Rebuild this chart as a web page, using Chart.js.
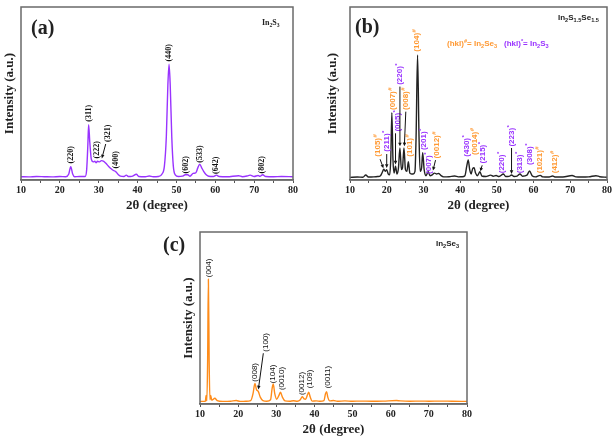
<!DOCTYPE html>
<html><head><meta charset="utf-8">
<script src="https://cdn.jsdelivr.net/npm/chart.js@4"></script>
<style>
body{margin:0;width:615px;height:440px;background:#fff;position:relative;overflow:hidden;}
canvas{position:absolute}
.t{position:absolute;white-space:nowrap;line-height:1;color:#222}
.pl{font:bold 20px "Liberation Serif"}
.sn{font:bold 8px "Liberation Sans"}
.sns{font:bold 8px "Liberation Serif"}
sub{font-size:70%;vertical-align:-2px;line-height:0}
sup{font-size:70%;vertical-align:3px;line-height:0}
</style></head><body>
<canvas id="ca" width="300" height="220" style="left:0;top:0"></canvas>
<canvas id="cb" width="297" height="220" style="left:318px;top:0"></canvas>
<canvas id="cc" width="310" height="240" style="left:170px;top:200px"></canvas>
<div class="t pl" style="left:31px;top:16px">(a)</div>
<div class="t pl" style="left:355px;top:15px">(b)</div>
<div class="t pl" style="left:163px;top:233px">(c)</div>
<div class="t sns" style="left:262px;top:18px">In<sub>2</sub>S<sub>3</sub></div>
<div class="t sn" style="left:558px;top:13px">In<sub>2</sub>S<sub>1.5</sub>Se<sub>1.5</sub></div>
<div class="t sn" style="left:447px;top:39px;color:#FF9933">(hkl)<sup>#</sup>= In<sub>2</sub>Se<sub>3</sub></div>
<div class="t sn" style="left:504px;top:39px;color:#9933FF">(hkl)<sup>*</sup>= In<sub>2</sub>S<sub>3</sub></div>
<div class="t sn" style="left:436px;top:239px">In<sub>2</sub>Se<sub>3</sub></div>
<script>
// ---------- data (2θ in degree, intensity in a.u.) ----------
const aTheta = [10,12,14,16,18,20,21.5,22.3,22.8,23.3,23.8,25,26.5,26.9,27.2,27.4,27.7,28.1,28.6,29.0,29.3,29.7,30.2,30.7,31.3,31.9,32.5,33.2,33.8,34.4,35.0,35.6,36.5,37.1,37.6,38.5,39.7,40.3,42,43,44,45.3,46.3,46.9,47.4,47.8,48.1,48.4,48.8,49.2,49.7,50.5,51.5,52.3,52.9,53.5,54.3,55.0,55.5,56.0,56.5,57.0,57.6,58.3,59.5,60.3,61,63,66,67,68.5,69,70,71,71.5,72.2,73,75,77,80];
const aInt   = [1.9,1.8,2.0,1.9,1.8,2.0,1.9,3.5,7.7,3.5,1.9,2.0,2.0,6,20,32,22,12,10.5,10.8,10,10.8,10.5,11.2,10.8,9.5,8,6.5,5.5,4.8,3.2,2.2,2.0,2.8,2.0,2.1,3.3,2.0,1.9,2.3,1.9,2.0,3.5,8,25,55,67,55,25,8,3,2.0,2.2,3.0,3.0,2.2,3.8,4.2,7,9.2,7,5,3.2,2.2,2.0,2.8,2.0,1.9,2.5,1.9,2.5,2.8,2.0,2.6,2.1,3.0,2.0,1.9,2.0,1.9];

const bTheta = [10,12,13.5,14.3,15,16.5,17.5,18.3,18.8,19.2,19.6,20.0,20.4,20.8,21.1,21.4,21.7,22.0,22.4,22.8,23.2,23.6,24.0,24.3,24.7,25.1,25.5,25.9,26.3,26.8,27.2,27.7,28.0,28.4,28.8,29.1,29.5,29.8,30.2,30.7,31.3,31.8,32.4,33.0,33.6,34.2,34.8,35.5,37,38.5,39.5,40.5,41.3,41.8,42.2,42.6,43.0,43.4,43.8,44.2,44.7,45.4,45.9,47,48.3,49.0,49.8,50.6,51.8,52.4,53.3,54.0,54.7,55.5,56.3,57.0,58.2,58.9,59.6,60.5,61.8,62.5,64,65.2,66,68,70.5,71.5,73,75,77,78,80];
const bInt   = [1.5,1.7,1.6,2.9,1.7,1.8,2.0,2.5,4.5,6.2,5.0,6.0,3.5,3.0,12,38.9,12,4,8,3.5,7,18.5,6,7,18.5,6,5,10.6,4,3.5,3.5,5,25,72.3,25,5,7,15.8,6,2.5,4.8,2.5,3,4,3.5,3.8,2.5,1.8,1.9,2.3,1.8,1.9,2.5,8,11.6,6,3.5,6.5,7.1,4,2.5,4.8,2.3,2.0,2.8,2.2,2.6,2.0,3.5,2.0,2.1,2.9,2.0,2.2,3.5,2.2,2.8,5.2,2.5,1.8,2.7,1.8,1.7,2.3,1.7,1.7,2.6,1.8,1.7,1.8,2.5,1.9,1.6];

const cTheta = [10,11,11.4,11.6,11.8,12.0,12.2,12.4,12.6,12.8,13.1,13.9,14.5,16,18,19.5,20.5,22,23.3,23.9,24.4,24.8,25.3,25.8,26.5,27.5,28.5,28.9,29.2,29.6,30.1,30.7,31.1,31.6,32.3,33.5,34.5,35.5,36.3,36.8,37.3,37.7,38.2,38.5,38.9,39.4,40.5,41.5,42.5,42.9,43.2,43.5,44,45,46,48,50,52,55,58,61.5,62.5,65,68,70,73,76,80];
const cInt   = [1.5,1.5,1.6,5,1.8,25,72.5,25,2.5,5,2.2,3.3,2.0,1.5,1.6,2.0,1.5,1.6,2.0,6,12,8.5,7.2,4,2.0,1.6,2.5,9,11.6,6,2.8,5,6.8,4,1.8,1.6,1.9,1.6,2.5,4.3,3.0,2.8,5.5,6.8,4,1.7,1.8,1.6,2.0,6,7.2,4,1.8,2.0,1.6,1.8,1.6,1.7,1.6,1.7,2.0,1.8,1.6,1.7,1.6,1.7,1.6,1.5];

// peak labels: [2θ, intensity at label foot, text, superscript, phase]
const aPeaks = [[22.8,9.6,'(220)'],[27.4,33.7,'(311)'],[29.6,12.5,'(222)'],[32.4,22,'(321)'],[34.5,6.7,'(400)'],[48.1,68.5,'(440)'],[52.5,3.8,'(602)'],[56.0,10,'(533)'],[60.1,3.5,'(642)'],[72.1,3.8,'(802)']];
const aArrows = [[31.8,20.8,30.8,12.5]];

const bPeaks = [[17.7,13.5,'(105)','#','Se'],[20.0,16.4,'(211)','*','S'],[21.6,40.5,'(007)','#','Se'],[23.1,28,'(005)','*','S'],[23.6,55,'(220)','*','S'],[25.3,40.5,'(008)','#','Se'],[26.3,13.5,'(101)','#','Se'],[28.3,74.2,'(104)','#','Se'],[30.2,17.3,'(201)','*','S'],[31.4,3.5,'(007)','*','S'],[33.6,12.5,'(0012)','#','Se'],[41.8,13.5,'(430)','*','S'],[44.0,14.5,'(0014)','#','Se'],[46.3,9.6,'(215)','*','S'],[51.3,3.9,'(220)','*','S'],[54.0,19.3,'(223)','*','S'],[56.3,3.9,'(313)','*','S'],[58.9,8.7,'(308)','*','S'],[61.6,3.9,'(1021)','#','Se'],[65.8,3.9,'(412)','#','Se']];
const bArrows = [[18.2,12,19.1,6.8],[20.0,15,20.0,7],[22.4,27,22.4,9],[23.6,54,23.6,19.5],[25.2,39.5,24.8,19.5],[33.3,11.5,32.6,5.5],[46.0,8.5,45.5,5],[54.0,18.5,54.0,3.5]];

const cPeaks = [[12.4,73.7,'(004)'],[24.4,13,'(008)'],[27.2,30.4,'(100)'],[29.1,12,'(104)'],[31.4,8.1,'(0010)'],[36.7,5.2,'(0012)'],[38.8,9.1,'(109)'],[43.6,9.1,'(0011)']];
const cArrows = [[26.6,29.5,25.3,8.5]];

const xMin = 10, xMax = 80, xStep = 5;
const phaseColor = {Se:'#FF9933', S:'#9933FF'};

// ---------- plugin drawing frame, peak labels and arrows ----------
const annot = {
  id:'annot',
  afterDatasetsDraw(chart, args, o){
    const ctx = chart.ctx, xs = chart.scales.x, ys = chart.scales.y, a = chart.chartArea;
    ctx.save();
    ctx.strokeStyle = '#6a6a6a'; ctx.lineWidth = 1.5;
    ctx.strokeRect(a.left, a.top, a.right - a.left, a.bottom - a.top);
    for (const p of o.peaks){
      const px = xs.getPixelForValue(p[0]), py = ys.getPixelForValue(p[1]);
      ctx.save(); ctx.translate(px, py); ctx.rotate(-Math.PI/2);
      ctx.font = o.font; ctx.fillStyle = p[4] ? phaseColor[p[4]] : '#111';
      ctx.textAlign = 'left'; ctx.textBaseline = 'middle';
      ctx.fillText(p[2], 0, 0);
      if (p[3]){ const w = ctx.measureText(p[2]).width; ctx.font = o.supFont; ctx.fillText(p[3], w + 0.5, -2.5); }
      ctx.restore();
    }
    ctx.strokeStyle = '#111'; ctx.fillStyle = '#111'; ctx.lineWidth = 1;
    for (const r of o.arrows){
      const x1 = xs.getPixelForValue(r[0]), y1 = ys.getPixelForValue(r[1]);
      const x2 = xs.getPixelForValue(r[2]), y2 = ys.getPixelForValue(r[3]);
      const ang = Math.atan2(y2 - y1, x2 - x1), h = 4;
      ctx.beginPath(); ctx.moveTo(x1, y1); ctx.lineTo(x2 - Math.cos(ang)*h*0.8, y2 - Math.sin(ang)*h*0.8); ctx.stroke();
      ctx.beginPath(); ctx.moveTo(x2, y2);
      ctx.lineTo(x2 - h*Math.cos(ang - 0.45), y2 - h*Math.sin(ang - 0.45));
      ctx.lineTo(x2 - h*Math.cos(ang + 0.45), y2 - h*Math.sin(ang + 0.45));
      ctx.closePath(); ctx.fill();
    }
    ctx.restore();
  }
};

const serifBold = (s) => ({family:'Liberation Serif', weight:'bold', size:s});

function makeChart(id, theta, inten, color, peaks, arrows, font, supFont, c){
  return new Chart(document.getElementById(id), {
    type:'line',
    data:{datasets:[{data: theta.map((t,i)=>({x:t, y:inten[i]})), borderColor:color, borderWidth:1.4,
      pointRadius:0, cubicInterpolationMode:'monotone', fill:false}]},
    options:{
      responsive:false, animation:false,
      layout:{padding:c.pad, autoPadding:false},
      plugins:{legend:{display:false}, tooltip:{enabled:false},
        annot:{peaks, arrows, font, supFont}},
      scales:{
        x:{type:'linear', min:xMin, max:xMax,
          ticks:{stepSize:xStep, autoSkip:false, maxRotation:0, padding:1, color:'#222', font:serifBold(10),
            callback:(v)=> (v % 10 === 0 ? String(v) : '')},
          grid:{drawOnChartArea:false, drawTicks:true, tickLength:3, color:'#555'},
          border:{display:true, color:'#6a6a6a', width:1.5},
          title:{display:true, text:'2θ (degree)', color:'#222', font:serifBold(13), padding:{top:0, bottom:c.xtpb}},
          afterFit(s){ s.height = c.xh; }},
        y:{min:0, max:100, ticks:{display:false}, grid:{display:false}, border:{display:false},
          title:{display:true, text:'Intensity (a.u.)', color:'#222', font:serifBold(13), padding:{top:c.ytp, bottom:0}},
          afterFit(s){ s.width = c.yw; }}
      }
    },
    plugins:[annot]
  });
}

makeChart('ca', aTheta, aInt, '#9933FF', aPeaks, aArrows, 'bold 8px "Liberation Serif"', 'bold 6px "Liberation Serif"',
  {pad:{left:0, top:7, right:7, bottom:0}, yw:21, ytp:1.5, xh:40, xtpb:6.2});
makeChart('cb', bTheta, bInt, '#222222', bPeaks, bArrows, 'bold 8px "Liberation Sans"', 'bold 6px "Liberation Sans"',
  {pad:{left:0, top:7, right:8, bottom:0}, yw:32, ytp:7.2, xh:40, xtpb:6.2});
makeChart('cc', cTheta, cInt, '#FF8C1A', cPeaks, cArrows, '8px "Liberation Sans"', '6px "Liberation Sans"',
  {pad:{left:0, top:32, right:13, bottom:0}, yw:30, ytp:11.2, xh:36, xtpb:2.2});
</script>
</body></html>
